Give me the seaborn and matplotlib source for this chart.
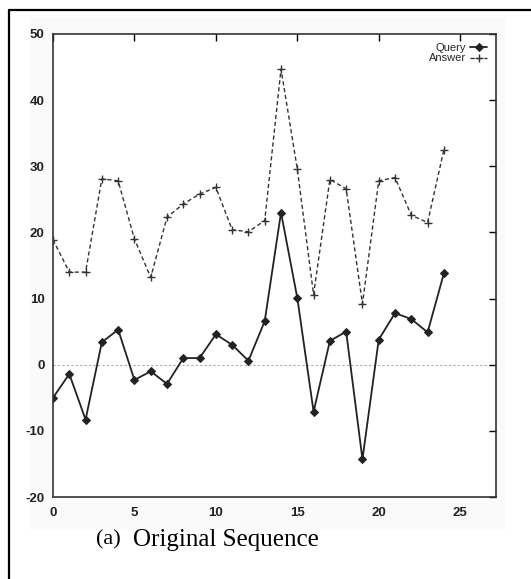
import matplotlib
matplotlib.use("Agg")
import matplotlib.pyplot as plt
import seaborn as sns
import numpy as np
import pandas as pd
from matplotlib.lines import Line2D
from matplotlib.patches import Rectangle

# ---- data ----
t = list(range(25))
query = [-5.0, -1.4, -8.3, 3.4, 5.3, -2.3, -1.0, -2.9, 1.0, 1.0, 4.6, 3.0, 0.6, 6.6,
         23.0, 10.1, -7.1, 3.6, 5.0, -14.3, 3.8, 7.8, 6.9, 4.9, 13.8]
answer = [18.9, 14.0, 14.0, 28.1, 27.8, 19.0, 13.2, 22.3, 24.3, 25.8, 26.8, 20.4, 20.1, 21.8,
          44.7, 29.6, 10.6, 28.0, 26.6, 9.2, 27.8, 28.3, 22.6, 21.5, 32.5]
xticks = [0, 5, 10, 15, 20, 25]
yticks = [-20, -10, 0, 10, 20, 30, 40, 50]
caption_label = "(a)"
caption_text = "Original Sequence"

sns.set_style("white")
plt.rcParams['font.family'] = ['Liberation Sans Narrow', 'Liberation Sans', 'DejaVu Sans']
plt.rcParams['axes.unicode_minus'] = False

fig = plt.figure(figsize=(5.31, 5.79), dpi=100)
fig.patch.set_facecolor("white")

# faint scanned background panel
fig.patches.append(Rectangle((30/531, 1-530/579), 475/531, 512/579, transform=fig.transFigure,
                             facecolor="#fafafa", edgecolor="none", zorder=-10))

ax = fig.add_axes([53/531, 1-497/579, (496-53)/531, (497-34)/579])
ax.set_facecolor("white")

df = pd.DataFrame({"t": t, "Query": query, "Answer": answer})
sns.lineplot(data=df, x="t", y="Query", ax=ax, color="#222222", linewidth=1.3,
             marker="D", markersize=4, markeredgecolor="#222222", label="Query")
sns.lineplot(data=df, x="t", y="Answer", ax=ax, color="#333333", linewidth=1.0,
             linestyle=(0, (3, 2)), marker="+", markersize=6, markeredgewidth=1.0,
             markeredgecolor="#333333", label="Answer")

ax.axhline(0, color="#aaaaaa", linewidth=0.8, linestyle=(0, (2, 2)), zorder=0)

ax.set_xlim(0, 27.2)
ax.set_ylim(-20, 50)
ax.set_xticks(xticks)
ax.set_yticks(yticks)
ax.set_xlabel("")
ax.set_ylabel("")
ax.tick_params(direction="in", length=5, width=1, top=True, right=True,
               labelsize=9.5, colors="black", pad=6)
ax.tick_params(axis="x", pad=7)
for lbl in ax.get_xticklabels() + ax.get_yticklabels():
    lbl.set_color("#222222")
    lbl.set_fontweight("bold")
for s in ax.spines.values():
    s.set_color("#333333")
    s.set_linewidth(1.2)
    s.set_visible(True)

leg = ax.legend(loc="upper right", frameon=False, markerfirst=False, fontsize=8,
                handlelength=1.5, handletextpad=0.4, labelspacing=0.05,
                borderaxespad=0.4, borderpad=0.4)

serif = ["Liberation Serif", "DejaVu Serif"]
fig.text(96/531, 1-540/579, caption_label, fontsize=16, family=serif,
         va="center", ha="left", color="black")
fig.text(133/531, 1-540/579, caption_text, fontsize=18, family=serif,
         va="center", ha="left", color="black")

# outer frame (top and left edges)
fig.add_artist(Line2D([9/531, 1.0], [1-10/579, 1-10/579], transform=fig.transFigure,
                      color="black", linewidth=1.6))
fig.add_artist(Line2D([9/531, 9/531], [1-10/579, 0.0], transform=fig.transFigure,
                      color="black", linewidth=1.6))

fig.savefig("out.png", dpi=100)
